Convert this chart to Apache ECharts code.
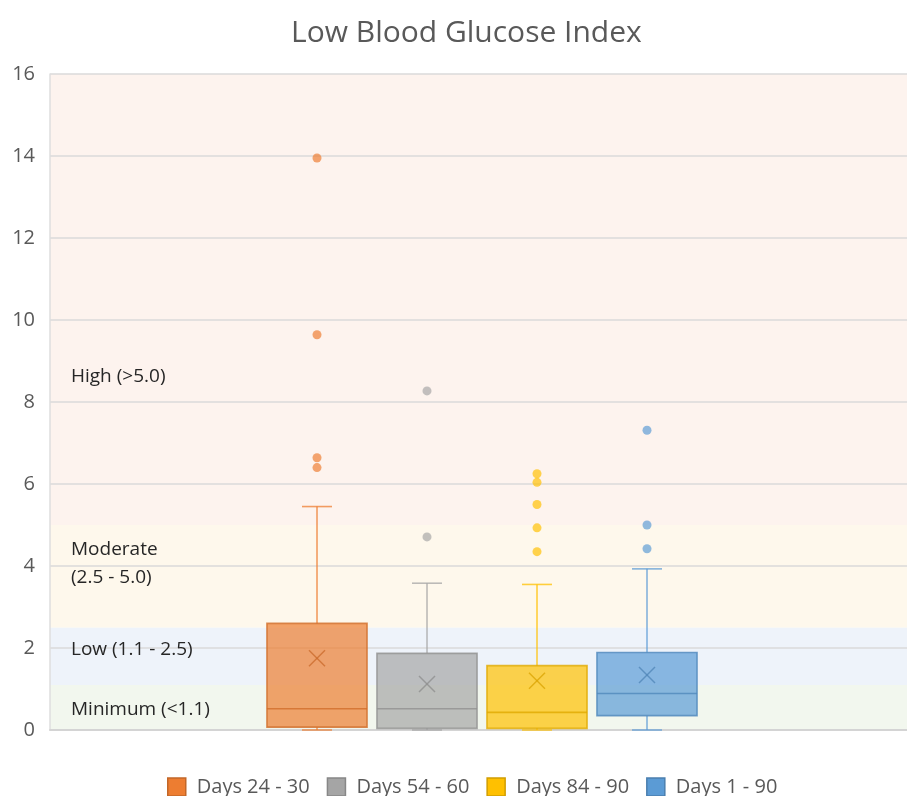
<!DOCTYPE html>
<html lang="en">
<head>
    <meta charset="UTF-8">
    <title>Low Blood Glucose Index</title>
    <script src="https://cdn.jsdelivr.net/npm/echarts@6/dist/echarts.min.js"></script>
    <style>
        html, body { margin: 0; padding: 0; background: #fff; }
        #main { width: 907px; height: 796px; }
    </style>
</head>
<body>
    <div id="main"></div>

    <script type="text/javascript">
        // data
        var groups = ['Days 24 - 30', 'Days 54 - 60', 'Days 84 - 90', 'Days 1 - 90'];
        var mins = [0, 0, 0, 0];
        var q1s = [0.07, 0.04, 0.04, 0.35];
        var medians = [0.52, 0.52, 0.43, 0.89];
        var q3s = [2.60, 1.87, 1.57, 1.89];
        var maxs = [5.45, 3.58, 3.55, 3.93];
        var means = [1.75, 1.12, 1.20, 1.34];
        var outliers = [
            [13.95, 9.64, 6.64, 6.40],
            [8.27, 4.71],
            [6.25, 6.04, 5.50, 4.93, 4.35],
            [7.31, 5.00, 4.42]
        ];
        var zoneNames = ['Minimum (<1.1)', 'Low (1.1 - 2.5)', 'Moderate\n(2.5 - 5.0)', 'High (>5.0)'];
        var zoneEdges = [0, 1.1, 2.5, 5.0, 16];

        // styles
        var baseRgb = [[237, 125, 49], [165, 165, 165], [255, 192, 0], [91, 155, 213]];
        var zoneColors = ['#f2f7ee', '#eef3fa', '#fef8ec', '#fdf3ee'];
        var zoneLabelAt = [0.49, 1.95, 4.07, 8.63];

        function rgba(c, a, k) {
            k = k || 1;
            return 'rgba(' + Math.round(c[0] * k) + ',' + Math.round(c[1] * k) + ',' + Math.round(c[2] * k) + ',' + a + ')';
        }

        var myChart = echarts.init(document.getElementById('main'));

        function boxRenderer(i) {
            var c = baseRgb[i];
            return function (params, api) {
                var x = api.value(0);
                var pMin = api.coord([x, api.value(1)]);
                var pQ1 = api.coord([x, api.value(2)]);
                var pMed = api.coord([x, api.value(3)]);
                var pQ3 = api.coord([x, api.value(4)]);
                var pMax = api.coord([x, api.value(5)]);
                var pMean = api.coord([x, api.value(6)]);
                var cx = pMin[0];
                var bw = api.size([1, 0])[0] * 0.91;
                var cap = 15;
                var xs = 8;
                var wStyle = { stroke: rgba(c, 0.75), lineWidth: 1.6 };
                var dark = rgba(c, 0.8, 0.88);
                return {
                    type: 'group',
                    children: [
                        { type: 'line', shape: { x1: cx, y1: pMax[1], x2: cx, y2: pQ3[1] }, style: wStyle },
                        { type: 'line', shape: { x1: cx, y1: pQ1[1], x2: cx, y2: pMin[1] }, style: wStyle },
                        { type: 'line', shape: { x1: cx - cap, y1: pMax[1], x2: cx + cap, y2: pMax[1] }, style: wStyle },
                        { type: 'line', shape: { x1: cx - cap, y1: pMin[1], x2: cx + cap, y2: pMin[1] }, style: wStyle },
                        {
                            type: 'rect',
                            shape: { x: cx - bw / 2, y: pQ3[1], width: bw, height: pQ1[1] - pQ3[1] },
                            style: { fill: rgba(c, 0.7), stroke: dark, lineWidth: 1.6 }
                        },
                        { type: 'line', shape: { x1: cx - bw / 2, y1: pMed[1], x2: cx + bw / 2, y2: pMed[1] }, style: { stroke: dark, lineWidth: 1.6 } },
                        { type: 'line', shape: { x1: cx - xs, y1: pMean[1] - xs, x2: cx + xs, y2: pMean[1] + xs }, style: { stroke: rgba(c, 0.75, 0.85), lineWidth: 1.5 } },
                        { type: 'line', shape: { x1: cx - xs, y1: pMean[1] + xs, x2: cx + xs, y2: pMean[1] - xs }, style: { stroke: rgba(c, 0.75, 0.85), lineWidth: 1.5 } }
                    ]
                };
            };
        }

        var series = [];

        // background zones + their labels
        var bands = [];
        var bandLabels = [];
        for (var z = 0; z < zoneNames.length; z++) {
            bands.push([
                { yAxis: zoneEdges[z], xAxis: 0, itemStyle: { color: zoneColors[z] } },
                { yAxis: zoneEdges[z + 1], xAxis: 1 }
            ]);
            bandLabels.push({
                coord: [0, zoneLabelAt[z]],
                value: zoneNames[z],
                label: { formatter: zoneNames[z] }
            });
        }
        series.push({
            type: 'line',
            xAxisIndex: 0,
            yAxisIndex: 0,
            data: [],
            silent: true,
            markArea: { silent: true, z: -1, data: bands },
            markPoint: {
                silent: true,
                symbol: 'circle',
                symbolSize: 0,
                data: bandLabels,
                label: {
                    show: true,
                    position: 'right',
                    distance: 21,
                    color: '#262626',
                    fontSize: 19,
                    lineHeight: 28,
                    align: 'left',
                    fontFamily: 'Open Sans'
                }
            }
        });

        for (var i = 0; i < groups.length; i++) {
            series.push({
                name: groups[i],
                type: 'custom',
                xAxisIndex: 1,
                yAxisIndex: 1,
                itemStyle: { color: rgba(baseRgb[i], 1) },
                renderItem: boxRenderer(i),
                encode: { x: 0, y: [1, 2, 3, 4, 5, 6] },
                data: [[i, mins[i], q1s[i], medians[i], q3s[i], maxs[i], means[i]]]
            });
        }
        for (var j = 0; j < groups.length; j++) {
            series.push({
                name: groups[j] + ' outliers',
                type: 'scatter',
                xAxisIndex: 1,
                yAxisIndex: 1,
                symbolSize: 9,
                itemStyle: { color: rgba(baseRgb[j], 0.85) },
                data: outliers[j].map(function (v) { return [j, v]; })
            });
        }

        var option = {
            animation: false,
            title: {
                text: 'Low Blood Glucose Index',
                left: 286,
                top: 13,
                textStyle: { fontSize: 30, fontWeight: 'normal', color: '#595959', fontFamily: 'Open Sans' }
            },
            legend: {
                data: groups.map(function (g, k) {
                    return { name: g, itemStyle: { color: rgba(baseRgb[k], 1), borderColor: rgba(baseRgb[k], 1, 0.82), borderWidth: 1.5 } };
                }),
                icon: 'rect',
                left: 167,
                top: 777,
                itemWidth: 18,
                itemHeight: 18,
                itemGap: 17,
                padding: 0,
                textStyle: { fontSize: 20, color: '#595959', fontFamily: 'Open Sans', padding: [0, 0, 0, 6] }
            },
            grid: [
                { left: 50, right: 0, top: 74, bottom: 66 },
                { left: 262, width: 440, top: 74, bottom: 66 }
            ],
            xAxis: [
                {
                    type: 'value', gridIndex: 0, min: 0, max: 1,
                    axisLine: { show: true, lineStyle: { color: '#d4d4d4', width: 2 } },
                    axisTick: { show: false }, axisLabel: { show: false }, splitLine: { show: false }
                },
                {
                    type: 'category', gridIndex: 1, data: groups, show: false
                }
            ],
            yAxis: [
                {
                    type: 'value', gridIndex: 0, min: 0, max: 16, interval: 2,
                    axisLine: { show: true, lineStyle: { color: '#dedede', width: 1.5 } },
                    axisTick: { show: false },
                    axisLabel: { fontSize: 20, color: '#595959', fontFamily: 'Open Sans', margin: 15 },
                    splitLine: { lineStyle: { color: '#dadada', width: 1.5 } }
                },
                {
                    type: 'value', gridIndex: 1, min: 0, max: 16, interval: 2, show: false,
                    splitLine: { show: false }
                }
            ],
            series: series
        };

        myChart.setOption(option);
    </script>
</body>
</html>
